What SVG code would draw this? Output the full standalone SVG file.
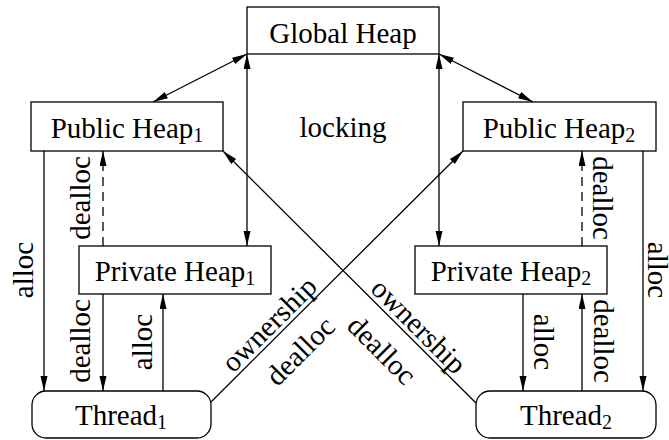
<svg xmlns="http://www.w3.org/2000/svg" width="669" height="440" viewBox="0 0 669 440">
  <style>
    .box { fill: #fff; stroke: #000; stroke-width: 1.3; }
    text { font-family: "Liberation Serif", "DejaVu Serif", serif; font-size: 29px; fill: #000; text-anchor: middle; }
    .sub { font-size: 20px; }
    .edge { stroke: #000; stroke-width: 1.3; fill: none; }
    .dash { stroke-dasharray: 9 6; }
  </style>
  <defs>
    <marker id="head" markerUnits="userSpaceOnUse" markerWidth="16" markerHeight="8" refX="15" refY="3.5" orient="auto-start-reverse">
      <path d="M0,0 L15,3.5 L0,7 z" fill="#000"/>
    </marker>
  </defs>

  <!-- connectors -->
  <g id="connectors">
    <line class="edge" x1="247" y1="54" x2="153" y2="102" marker-start="url(#head)" marker-end="url(#head)"/>
    <line class="edge" x1="439" y1="54" x2="533" y2="102" marker-start="url(#head)" marker-end="url(#head)"/>
    <line class="edge" x1="247" y1="54" x2="247" y2="246" marker-start="url(#head)" marker-end="url(#head)"/>
    <line class="edge" x1="439" y1="54" x2="439" y2="246" marker-start="url(#head)" marker-end="url(#head)"/>

    <line class="edge" x1="44" y1="151" x2="44" y2="391" marker-end="url(#head)"/>
    <line class="edge dash" x1="103" y1="246" x2="103" y2="151" marker-end="url(#head)"/>
    <line class="edge" x1="103" y1="294" x2="103" y2="391" marker-end="url(#head)"/>
    <line class="edge" x1="163" y1="391" x2="163" y2="294" marker-end="url(#head)"/>

    <line class="edge" x1="643" y1="151" x2="643" y2="391" marker-end="url(#head)"/>
    <line class="edge dash" x1="582" y1="246" x2="582" y2="151" marker-end="url(#head)"/>
    <line class="edge" x1="523" y1="294" x2="523" y2="391" marker-end="url(#head)"/>
    <line class="edge" x1="582" y1="391" x2="582" y2="294" marker-end="url(#head)"/>

    <line class="edge" x1="211" y1="402" x2="463" y2="151" marker-end="url(#head)"/>
    <line class="edge" x1="476" y1="403" x2="223" y2="151" marker-end="url(#head)"/>

    <!-- connector labels -->
    <text x="343" y="137">locking</text>
    <text transform="translate(33,270) rotate(-90)">alloc</text>
    <text transform="translate(90,198) rotate(-90)">dealloc</text>
    <text transform="translate(90,341) rotate(-90)">dealloc</text>
    <text transform="translate(152,342) rotate(-90)">alloc</text>
    <text transform="translate(648,270) rotate(90)">alloc</text>
    <text transform="translate(593,198) rotate(90)">dealloc</text>
    <text transform="translate(534,342) rotate(90)">alloc</text>
    <text transform="translate(594,341) rotate(90)">dealloc</text>
    <text transform="translate(276,331) rotate(-45)">ownership</text>
    <text transform="translate(307,358) rotate(-45)">dealloc</text>
    <text transform="translate(412,333) rotate(45)">ownership</text>
    <text transform="translate(375,357) rotate(45)">dealloc</text>
  </g>

  <!-- nodes -->
  <g id="global-heap">
    <rect class="box" x="247" y="7" width="192" height="47"/>
    <text x="343" y="43">Global Heap</text>
  </g>
  <g id="public-heap-1">
    <rect class="box" x="31" y="102" width="192" height="49"/>
    <text x="127" y="138">Public Heap<tspan class="sub" dy="4">1</tspan></text>
  </g>
  <g id="public-heap-2">
    <rect class="box" x="463" y="102" width="193" height="49"/>
    <text x="559" y="138">Public Heap<tspan class="sub" dy="4">2</tspan></text>
  </g>
  <g id="private-heap-1">
    <rect class="box" x="79" y="246" width="192" height="48"/>
    <text x="175" y="281">Private Heap<tspan class="sub" dy="4">1</tspan></text>
  </g>
  <g id="private-heap-2">
    <rect class="box" x="415" y="246" width="192" height="48"/>
    <text x="511" y="281">Private Heap<tspan class="sub" dy="4">2</tspan></text>
  </g>
  <g id="thread-1">
    <rect class="box" x="32" y="391" width="179" height="47" rx="14" ry="14"/>
    <text x="121" y="425">Thread<tspan class="sub" dy="4">1</tspan></text>
  </g>
  <g id="thread-2">
    <rect class="box" x="476" y="391" width="180" height="47" rx="14" ry="14"/>
    <text x="566" y="425">Thread<tspan class="sub" dy="4">2</tspan></text>
  </g>
</svg>
